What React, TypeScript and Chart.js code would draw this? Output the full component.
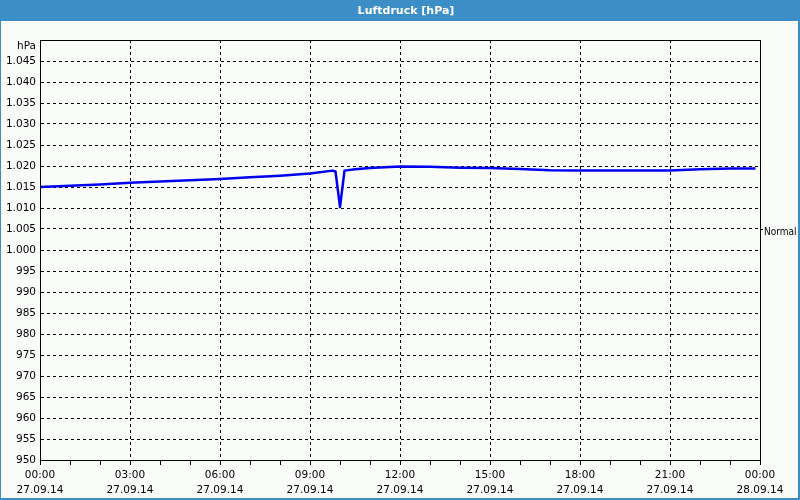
import React, { useEffect, useRef } from "react";
import { Chart, registerables } from "chart.js";

Chart.register(...registerables);

// Data: hours since 27.09.14 00:00 and pressure in hPa
const hours = [0, 1, 2, 3, 4, 5, 6, 7, 8, 9, 9.75, 9.85, 10.0, 10.15, 10.5, 11, 12, 13, 14, 15, 16, 17, 18, 19, 20, 21, 22, 23, 23.85];
const pressure = [1015.0, 1015.3, 1015.6, 1016.0, 1016.3, 1016.6, 1016.9, 1017.3, 1017.7, 1018.2, 1018.9, 1018.7, 1010.2, 1018.9, 1019.2, 1019.5, 1019.9, 1019.8, 1019.6, 1019.5, 1019.3, 1019.0, 1018.9, 1018.9, 1018.9, 1018.9, 1019.2, 1019.4, 1019.4];
const xTimeLabels = ["00:00", "03:00", "06:00", "09:00", "12:00", "15:00", "18:00", "21:00", "00:00"];
const xDateLabels = ["27.09.14", "27.09.14", "27.09.14", "27.09.14", "27.09.14", "27.09.14", "27.09.14", "27.09.14", "28.09.14"];
const title = "Luftdruck [hPa]";
const unitLabel = "hPa";
const normalLabel = "Normal";
const normalValue = 1005;
const yMin = 950;
const yMax = 1050;

const FONT = "'DejaVu Sans', sans-serif";
const BLUE = "#3c8fc6";
const BG = "#fafcfa";

function fmtDe(v: number): string {
  if (v >= 1000) {
    const rest = Math.round(v - 1000);
    return "1." + String(rest).padStart(3, "0");
  }
  return String(Math.round(v));
}

const framePlugin = {
  id: "frame",
  beforeDraw(chart: any) {
    const ctx = chart.ctx;
    ctx.save();
    ctx.fillStyle = BG;
    ctx.fillRect(0, 0, chart.width, chart.height);
    ctx.restore();
  },
  afterDraw(chart: any) {
    const ctx = chart.ctx;
    const a = chart.chartArea;
    const y = chart.scales.y;
    ctx.save();
    // plot border
    ctx.strokeStyle = "#000";
    ctx.lineWidth = 1;
    ctx.setLineDash([]);
    ctx.strokeRect(Math.round(a.left) + 0.5, Math.round(a.top) + 0.5, Math.round(a.right - a.left), Math.round(a.bottom - a.top));
    // unit label at top
    ctx.fillStyle = "#000";
    ctx.font = "10.5px " + FONT;
    ctx.textAlign = "right";
    ctx.textBaseline = "middle";
    ctx.fillText(unitLabel, a.left - 4, a.top + 6);
    // normal marker
    const ny = Math.round(y.getPixelForValue(normalValue)) + 0.5;
    ctx.beginPath();
    ctx.moveTo(a.right, ny);
    ctx.lineTo(a.right + 3, ny);
    ctx.stroke();
    ctx.textAlign = "left";
    ctx.font = "10px 'DejaVu Sans Condensed', 'DejaVu Sans', sans-serif";
    ctx.fillText(normalLabel, a.right + 4, ny + 3);
    // title bar
    ctx.fillStyle = BLUE;
    ctx.fillRect(0, 0, chart.width, 21);
    ctx.fillStyle = "#fff";
    ctx.font = "bold 11px " + FONT;
    ctx.textAlign = "center";
    ctx.textBaseline = "middle";
    ctx.fillText(title, 406, 11);
    // window frame
    ctx.fillStyle = BLUE;
    ctx.fillRect(0, 0, 1, chart.height);
    ctx.fillRect(chart.width - 2, 0, 2, chart.height);
    ctx.fillRect(0, chart.height - 2, chart.width, 2);
    ctx.restore();
  },
};

export default function App() {
  const ref = useRef<HTMLCanvasElement | null>(null);

  useEffect(() => {
    if (!ref.current) return;
    const points = hours.map((h, i) => ({ x: h, y: pressure[i] }));
    const chart = new Chart(ref.current, {
      type: "line",
      data: {
        datasets: [
          {
            data: points,
            borderColor: "#0000ee",
            borderWidth: 2.5,
            borderJoinStyle: "round",
            pointRadius: 0,
            tension: 0,
            fill: false,
          },
        ],
      },
      options: {
        animation: false,
        responsive: false,
        devicePixelRatio: 1,
        layout: { padding: { left: 0, top: 40, right: 40, bottom: 0 } },
        plugins: { legend: { display: false }, tooltip: { enabled: false }, title: { display: false } },
        scales: {
          x: {
            type: "linear",
            min: 0,
            max: 24,
            afterFit: (s: any) => {
              s.height = 40;
            },
            ticks: {
              stepSize: 1,
              autoSkip: false,
              maxRotation: 0,
              minRotation: 0,
              padding: 2,
              color: "#000",
              font: { family: FONT, size: 10.5, lineHeight: 1.5 },
              callback: (v: any) => {
                const n = Number(v);
                if (n % 3 !== 0) return "";
                const i = n / 3;
                return [xTimeLabels[i], xDateLabels[i]];
              },
            },
            grid: {
              color: (c: any) => (c.tick && c.tick.value % 3 === 0 ? "#000" : "rgba(0,0,0,0)"),
              tickColor: "#000",
              tickLength: 5,
              tickBorderDash: [],
              lineWidth: 1,
            },
            border: { display: true, color: "#000", dash: [3, 3] },
          },
          y: {
            type: "linear",
            min: yMin,
            max: yMax,
            afterFit: (s: any) => {
              s.width = 40;
            },
            ticks: {
              stepSize: 5,
              autoSkip: false,
              padding: 4,
              color: "#000",
              font: { family: FONT, size: 10.5 },
              callback: (v: any) => {
                const n = Number(v);
                if (n >= yMax) return "";
                return fmtDe(n);
              },
            },
            grid: { color: "#000", drawTicks: false, lineWidth: 1 },
            border: { display: true, color: "#000", dash: [3, 3] },
          },
        },
      },
      plugins: [framePlugin],
    } as any);
    return () => chart.destroy();
  }, []);

  return (
    <div style={{ position: "fixed", left: 0, top: 0, width: 800, height: 500 }}>
      <canvas ref={ref} width={800} height={500} style={{ display: "block", width: 800, height: 500 }} />
    </div>
  );
}
